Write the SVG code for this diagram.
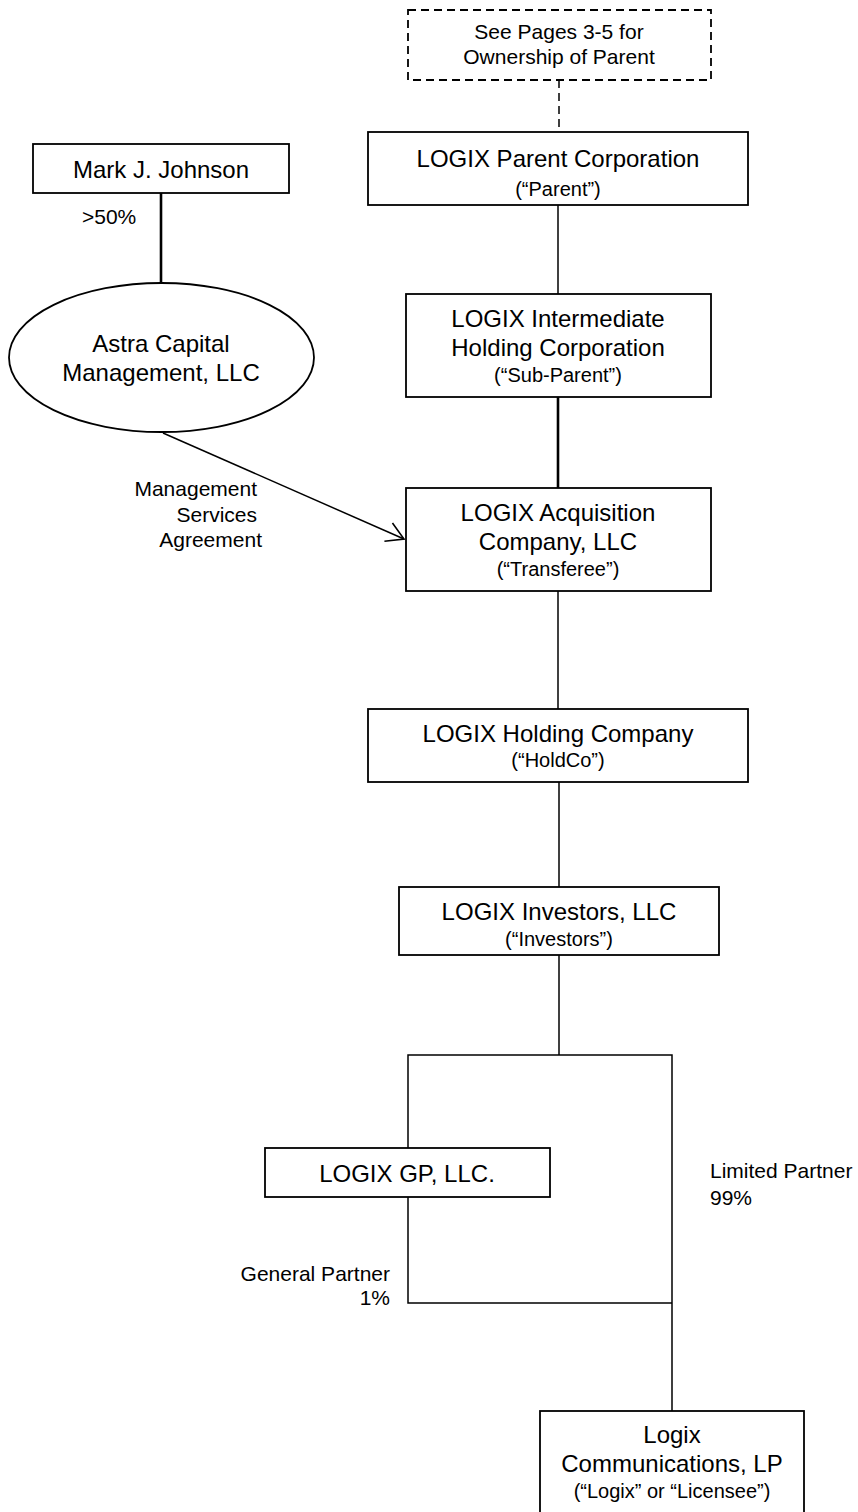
<svg xmlns="http://www.w3.org/2000/svg" width="858" height="1512" viewBox="0 0 858 1512">
<style>
text{font-family:"Liberation Sans",Arial,sans-serif;fill:#000;text-anchor:middle}
.m{font-size:24px}
.s{font-size:20px}
.l{font-size:21px}
.box{fill:#fff;stroke:#000;stroke-width:1.8}
.dash{fill:#fff;stroke:#000;stroke-width:1.8;stroke-dasharray:8,5}
.c{fill:none;stroke:#000;stroke-width:1.5}
.t{fill:none;stroke:#000;stroke-width:2.6}
</style>
<defs>
<marker id="arr" markerUnits="userSpaceOnUse" viewBox="-20 -12 22 24" refX="0" refY="0" markerWidth="22" markerHeight="24" orient="auto">
<path d="M-17,-10 L0,0 L-17,10" fill="none" stroke="#000" stroke-width="1.6"/>
</marker>
</defs>
<g id="connectors">
<path class="c" d="M559,80 V132" stroke-dasharray="8,5"/>
<path class="c" d="M558,205 V294"/>
<path class="t" d="M558,397 V488"/>
<path class="c" d="M558,591 V709"/>
<path class="c" d="M559,782 V887"/>
<path class="c" d="M559,955 V1055"/>
<path class="c" d="M408,1148 V1055 H672 V1411"/>
<path class="c" d="M408,1197 V1303 H672"/>
<path class="t" d="M161,193 V283"/>
<path class="c" d="M163,433 L404,539" marker-end="url(#arr)"/>
<text class="l" x="82" y="224" style="text-anchor:start">&gt;50%</text>
<text class="l" x="257" y="496" style="text-anchor:end">Management</text>
<text class="l" x="257" y="522" style="text-anchor:end">Services</text>
<text class="l" x="262" y="547" style="text-anchor:end">Agreement</text>
<text class="l" x="710" y="1178" style="text-anchor:start">Limited Partner</text>
<text class="l" x="710" y="1205" style="text-anchor:start">99%</text>
<text class="l" x="390" y="1281" style="text-anchor:end">General Partner</text>
<text class="l" x="390" y="1305" style="text-anchor:end">1%</text>
</g>
<g id="note">
<rect class="dash" x="408" y="10" width="303" height="70"/>
<text class="l" x="559" y="39">See Pages 3-5 for</text>
<text class="l" x="559" y="64">Ownership of Parent</text>
</g>
<g id="parent">
<rect class="box" x="368" y="132" width="380" height="73"/>
<text class="m" x="558" y="167">LOGIX Parent Corporation</text>
<text class="s" x="558" y="196">(“Parent”)</text>
</g>
<g id="mark">
<rect class="box" x="33" y="144" width="256" height="49"/>
<text class="m" x="161" y="178">Mark J. Johnson</text>
</g>
<g id="astra">
<ellipse class="box" cx="161.5" cy="357.5" rx="152.5" ry="74.5"/>
<text class="m" x="161" y="352">Astra Capital</text>
<text class="m" x="161" y="381">Management, LLC</text>
</g>
<g id="subparent">
<rect class="box" x="406" y="294" width="305" height="103"/>
<text class="m" x="558" y="327">LOGIX Intermediate</text>
<text class="m" x="558" y="356">Holding Corporation</text>
<text class="s" x="558" y="382">(“Sub-Parent”)</text>
</g>
<g id="transferee">
<rect class="box" x="406" y="488" width="305" height="103"/>
<text class="m" x="558" y="521">LOGIX Acquisition</text>
<text class="m" x="558" y="550">Company, LLC</text>
<text class="s" x="558" y="576">(“Transferee”)</text>
</g>
<g id="holdco">
<rect class="box" x="368" y="709" width="380" height="73"/>
<text class="m" x="558" y="742">LOGIX Holding Company</text>
<text class="s" x="558" y="767">(“HoldCo”)</text>
</g>
<g id="investors">
<rect class="box" x="399" y="887" width="320" height="68"/>
<text class="m" x="559" y="920">LOGIX Investors, LLC</text>
<text class="s" x="559" y="946">(“Investors”)</text>
</g>
<g id="gp">
<rect class="box" x="265" y="1148" width="285" height="49"/>
<text class="m" x="407" y="1182">LOGIX GP, LLC.</text>
</g>
<g id="logix">
<rect class="box" x="540" y="1411" width="264" height="110"/>
<text class="m" x="672" y="1443">Logix</text>
<text class="m" x="672" y="1472">Communications, LP</text>
<text class="s" x="672" y="1498">(“Logix” or “Licensee”)</text>
</g>
</svg>
